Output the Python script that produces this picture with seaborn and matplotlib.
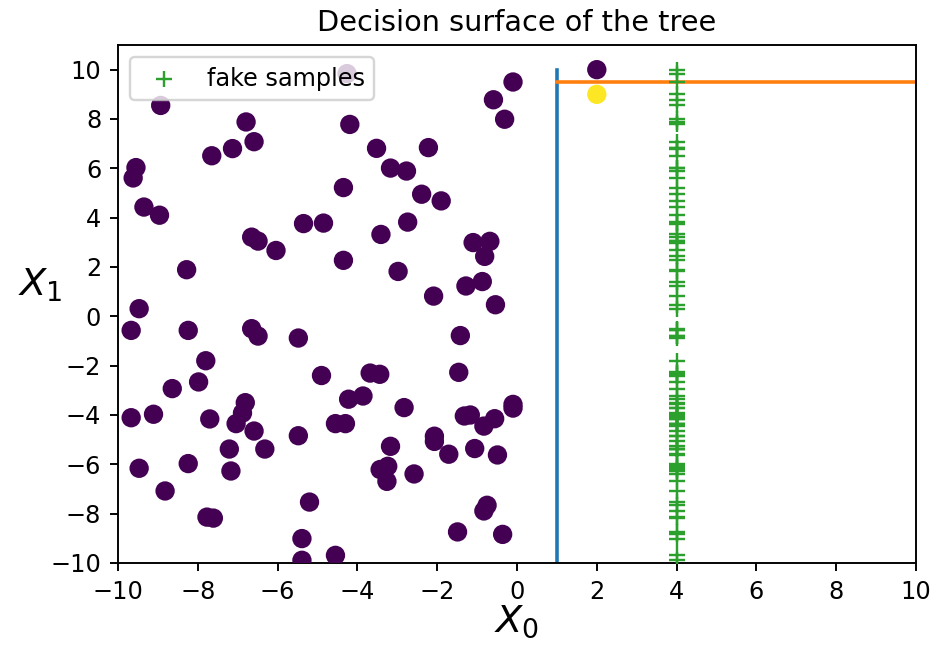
import matplotlib
matplotlib.use("Agg")
import matplotlib.pyplot as plt
import numpy as np
import pandas as pd
import seaborn as sns

# Training samples: feature X0, feature X1 and class label
x0 = [-8.93, -6.79, -6.59, -7.13, -7.65, -9.55, -9.62, -9.35, -8.96, -4.26,
      -0.10, -0.59, -0.31, -4.19, -3.52, -2.22, -3.17, -2.77, -4.35, -2.39,
      -1.90, -5.35, -4.85, -6.65, -6.49, -6.04, -8.28, -9.47, -9.67, -8.24,
      -6.65, -6.49, -5.48, -7.80, -7.98, -8.64, -4.90, -3.41, -2.74, -1.10,
      -0.68, -0.81, -4.35, -2.98, -0.87, -1.28, -2.09, -0.54, -1.42, -1.46,
      -3.68, -3.44, -9.67, -9.11, -7.70, -6.81, -6.88, -7.04, -6.59, -5.48,
      -7.21, -6.32, -9.47, -8.24, -7.17, -8.82, -5.20, -7.77, -7.61, -5.39,
      -5.39, -4.22, -3.86, -2.83, -4.55, -4.30, -0.10, -0.10, -1.32, -1.17,
      -0.56, -0.83, -2.07, -2.07, -3.17, -1.71, -1.06, -0.49, -3.43, -3.24,
      -3.26, -2.58, -0.75, -0.83, -1.49, -0.36, -4.55, 2.00, 2.00]
x1 = [8.55, 7.88, 7.08, 6.80, 6.51, 6.03, 5.61, 4.43, 4.10, 9.84,
      9.50, 8.78, 7.99, 7.78, 6.81, 6.84, 6.01, 5.89, 5.22, 4.95,
      4.68, 3.76, 3.78, 3.21, 3.05, 2.67, 1.89, 0.31, -0.57, -0.57,
      -0.50, -0.80, -0.88, -1.80, -2.66, -2.93, -2.40, 3.32, 3.82, 2.99,
      3.04, 2.43, 2.27, 1.82, 1.41, 1.23, 0.82, 0.47, -0.78, -2.27,
      -2.30, -2.35, -4.11, -3.97, -4.16, -3.50, -3.92, -4.35, -4.65, -4.84,
      -5.38, -5.38, -6.16, -5.97, -6.27, -7.08, -7.53, -8.14, -8.18, -9.01,
      -9.89, -3.36, -3.23, -3.70, -4.35, -4.35, -3.57, -3.72, -4.04, -4.00,
      -4.15, -4.45, -4.86, -5.07, -5.27, -5.59, -5.36, -5.62, -6.21, -6.08,
      -6.69, -6.39, -7.66, -7.89, -8.74, -8.84, -9.69, 10.00, 9.00]
label = [0] * 98 + [1]

# Fake samples: X0 fixed at 4, X1 taken from the observed samples
fake_x0_value = 4.0

# Tree splits: X0 <= 1, then X1 <= 9.5
split_x0 = 1.0
split_x1 = 9.5

df = pd.DataFrame({"X0": x0, "X1": x1, "y": label})
fake = pd.DataFrame({"X0": [fake_x0_value] * len(x1), "X1": x1})

DPI = 172.5
fig = plt.figure(figsize=(949 / DPI, 648 / DPI), dpi=DPI)
ax = fig.add_axes([118 / 949, 1 - 563 / 648, (916 - 118) / 949, (563 - 45) / 648])

# Decision boundaries
ax.plot([split_x0, split_x0], [-10, 10], color="C0", lw=1.5, zorder=2)
ax.plot([split_x0, 10], [split_x1, split_x1], color="C1", lw=1.5, zorder=2)

sns.scatterplot(data=df, x="X0", y="X1", hue="y",
                palette={0: "#440154", 1: "#fde725"},
                s=50, edgecolor="face", linewidth=1, legend=False, ax=ax, zorder=3)
sns.scatterplot(data=fake, x="X0", y="X1", marker="+", color="C2",
                s=50, linewidth=1, label="fake samples", ax=ax, zorder=3)

ax.set_xlim(-10, 10)
ax.set_ylim(-10, 11)
ax.set_xticks(np.arange(-10, 11, 2))
ax.set_yticks(np.arange(-10, 11, 2))
ax.set_title("Decision surface of the tree", fontsize=12)
ax.set_xlabel("$X_0$", fontsize=16, labelpad=0)
ax.set_ylabel("$X_1$", fontsize=16, rotation=0, labelpad=4)
ax.legend(loc="upper left", fontsize=10)

fig.savefig("out.png", dpi=DPI)
